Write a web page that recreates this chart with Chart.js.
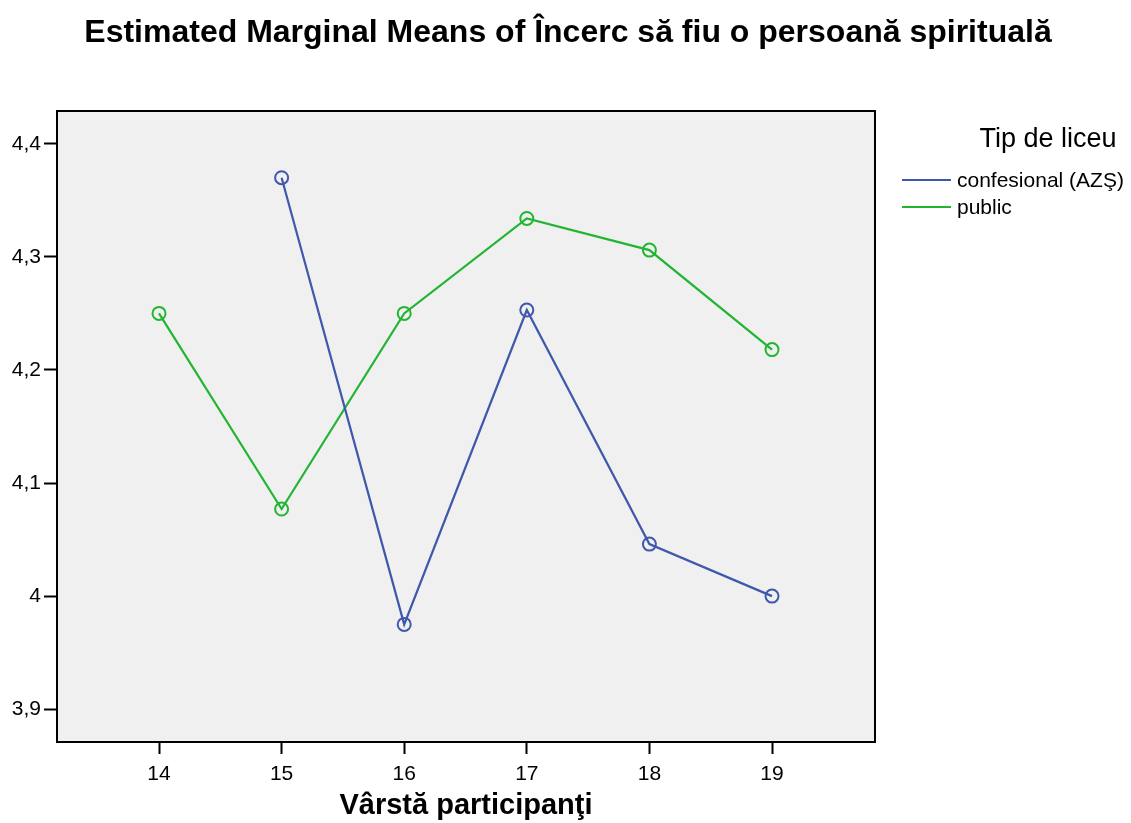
<!DOCTYPE html>
<html>
<head>
<meta charset="utf-8">
<script src="https://cdn.jsdelivr.net/npm/chart.js@4"></script>
<style>
  body { margin: 0; background: #fff; }
  #wrap { width: 1131px; height: 823px; }
</style>
</head>
<body>
<div id="wrap"><canvas id="myChart" width="1131" height="823"></canvas></div>
<script>
const ages = [14, 15, 16, 17, 18, 19];
const confesional = [null, 4.370, 3.975, 4.253, 4.046, 4.000];
const publicSchool = [4.250, 4.077, 4.250, 4.334, 4.306, 4.218];
const yTicks = [3.9, 4.0, 4.1, 4.2, 4.3, 4.4];
const seriesNames = ["confesional (AZŞ)", "public"];
const seriesColors = ["#3e58ac", "#22b532"];

const FONT = "'Liberation Sans', Arial, sans-serif";

function toPoints(values) {
    return ages.map((a, i) => ({ x: a, y: values[i] })).filter(p => p.y !== null);
}

// background, frame, title and legend
const decor = {
    id: "decor",
    beforeDatasetsDraw(chart) {
        const { ctx, chartArea: a } = chart;
        ctx.save();
        ctx.fillStyle = "#f0f0f0";
        ctx.fillRect(a.left, a.top, a.right - a.left, a.bottom - a.top);
        ctx.restore();
    },
    afterDraw(chart) {
        const { ctx, chartArea: a } = chart;
        ctx.save();
        ctx.strokeStyle = "#000";
        ctx.lineWidth = 2;
        ctx.strokeRect(a.left, a.top, a.right - a.left, a.bottom - a.top);

        ctx.fillStyle = "#000";
        ctx.textAlign = "center";
        ctx.textBaseline = "middle";
        ctx.font = "bold 32px " + FONT;
        ctx.fillText("Estimated Marginal Means of Încerc să fiu o persoană spirituală", 568, 33);

        ctx.font = "27px " + FONT;
        ctx.fillText("Tip de liceu", 1048, 140);

        ctx.font = "21px " + FONT;
        ctx.textAlign = "left";
        seriesNames.forEach((name, i) => {
            const y = 180 + i * 27;
            ctx.strokeStyle = seriesColors[i];
            ctx.lineWidth = 2;
            ctx.beginPath();
            ctx.moveTo(902, y);
            ctx.lineTo(951, y);
            ctx.stroke();
            ctx.fillText(name, 957, y + 1);
        });
        ctx.restore();
    }
};

const ctx = document.getElementById("myChart");

new Chart(ctx, {
    type: "line",
    data: {
        datasets: [
            {
                label: seriesNames[0],
                data: toPoints(confesional),
                borderColor: seriesColors[0],
                backgroundColor: "transparent",
                borderWidth: 2.2,
                pointRadius: 6.5,
                pointBorderWidth: 2,
                pointBackgroundColor: "transparent",
                pointBorderColor: seriesColors[0],
                tension: 0,
            },
            {
                label: seriesNames[1],
                data: toPoints(publicSchool),
                borderColor: seriesColors[1],
                backgroundColor: "transparent",
                borderWidth: 2.2,
                pointRadius: 6.5,
                pointBorderWidth: 2,
                pointBackgroundColor: "transparent",
                pointBorderColor: seriesColors[1],
                tension: 0,
            },
        ],
    },
    options: {
        responsive: false,
        animation: false,
        layout: { padding: { top: 111, right: 256, left: 0, bottom: 0 } },
        plugins: {
            legend: { display: false },
            title: { display: false },
            tooltip: { enabled: false },
        },
        scales: {
            x: {
                type: "linear",
                min: 13.168,
                max: 19.84,
                afterBuildTicks: scale => { scale.ticks = ages.map(v => ({ value: v })); },
                afterFit: scale => { scale.height = 81; },
                grid: { drawOnChartArea: false, tickLength: 12, tickColor: "#000", tickWidth: 2 },
                border: { color: "#000", width: 2 },
                ticks: {
                    color: "#000",
                    font: { family: FONT, size: 21 },
                    padding: 8,
                    maxRotation: 0,
                    callback: v => String(v),
                },
                title: {
                    display: true,
                    text: "Vârstă participanţi",
                    color: "#000",
                    font: { family: FONT, size: 29, weight: "bold" },
                    padding: { top: 2, bottom: 0 },
                },
            },
            y: {
                min: 3.871,
                max: 4.429,
                afterBuildTicks: scale => { scale.ticks = yTicks.map(v => ({ value: v })); },
                afterFit: scale => { scale.width = 57; },
                grid: { drawOnChartArea: false, tickLength: 13, tickColor: "#000", tickWidth: 2 },
                border: { color: "#000", width: 2 },
                ticks: {
                    color: "#000",
                    font: { family: FONT, size: 21 },
                    padding: 3,
                    callback: v => (Math.round(v * 10) / 10).toString().replace(".", ","),
                },
            },
        },
    },
    plugins: [decor],
});
</script>
</body>
</html>
